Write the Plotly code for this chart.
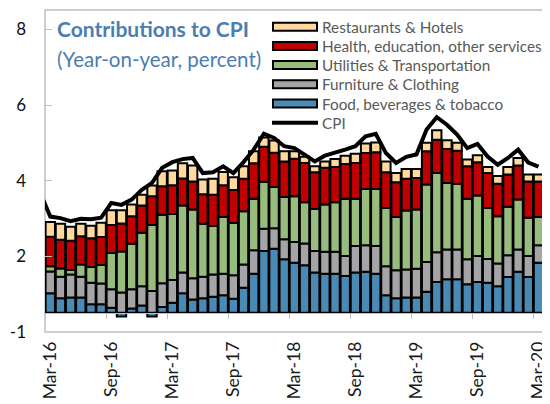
import pandas as pd
import plotly.graph_objects as go

# ---------------- data (contributions, percentage points above the category axis) ----------------
months = [d.strftime("%b-%y") for d in pd.date_range("2016-03-01", "2020-03-01", freq="MS")]
cpi_months = ["Feb-16"] + months

food = [0.51, 0.38, 0.40, 0.40, 0.22, 0.22, 0.13, -0.10, 0.11, 0.19, -0.10, 0.15,
        0.26, 0.51, 0.35, 0.38, 0.42, 0.46, 0.37, 0.66, 1.03, 1.63, 1.69, 1.41,
        1.32, 1.25, 1.06, 1.03, 1.03, 0.97, 1.06, 1.08, 1.03, 0.46, 0.38, 0.40,
        0.40, 0.55, 0.81, 0.88, 0.88, 0.75, 0.81, 0.79, 0.70, 0.94, 1.08, 0.94, 1.32]
furniture = [0.58, 0.57, 0.61, 0.55, 0.57, 0.55, 0.49, 0.53, 0.51, 0.51, 0.57, 0.63,
             0.60, 0.55, 0.56, 0.57, 0.59, 0.57, 0.62, 0.61, 0.62, 0.59, 0.54, 0.53,
             0.55, 0.58, 0.57, 0.58, 0.58, 0.53, 0.70, 0.70, 0.73, 0.77, 0.74, 0.74,
             0.76, 0.79, 0.79, 0.79, 0.79, 0.66, 0.69, 0.63, 0.60, 0.58, 0.59, 0.56, 0.46]
utilities = [0.14, 0.22, 0.12, 0.32, 0.42, 0.49, 0.96, 1.09, 1.20, 1.41, 1.75, 1.81,
             1.75, 1.77, 1.82, 1.40, 1.28, 1.50, 1.38, 1.41, 1.36, 1.24, 1.09, 1.12,
             1.21, 1.09, 1.11, 1.25, 1.31, 1.51, 1.25, 1.49, 1.51, 1.54, 1.41, 1.56,
             1.57, 2.05, 2.09, 1.76, 1.73, 1.60, 1.60, 1.35, 1.25, 1.28, 1.32, 1.01, 0.75]
health = [0.78, 0.76, 0.77, 0.75, 0.76, 0.74, 0.74, 0.74, 0.73, 0.72, 0.76, 0.75,
          0.76, 0.72, 0.74, 0.78, 0.83, 0.84, 0.87, 0.86, 0.94, 0.93, 0.91, 0.94,
          0.99, 1.04, 0.97, 0.97, 0.93, 0.92, 0.95, 0.95, 0.97, 0.94, 0.92, 0.84,
          0.83, 0.88, 0.88, 0.90, 0.88, 0.86, 0.88, 0.92, 0.86, 0.85, 0.90, 0.96, 0.94]
restaurants = [0.39, 0.42, 0.37, 0.33, 0.33, 0.38, 0.39, 0.35, 0.31, 0.29, 0.28, 0.40,
               0.39, 0.40, 0.42, 0.39, 0.42, 0.35, 0.34, 0.33, 0.32, 0.24, 0.32, 0.27,
               0.20, 0.16, 0.16, 0.17, 0.21, 0.22, 0.24, 0.25, 0.26, 0.29, 0.24, 0.26,
               0.24, 0.22, 0.25, 0.23, 0.21, 0.18, 0.18, 0.16, 0.20, 0.20, 0.20, 0.18, 0.18]
cpi = [3.17,
       2.54, 2.50, 2.42, 2.48, 2.47, 2.51, 2.90, 2.85, 2.99, 3.25, 3.43, 3.83,
       3.98, 4.06, 4.09, 3.69, 3.71, 3.87, 3.69, 3.98, 4.31, 4.73, 4.62, 4.40,
       4.35, 4.18, 4.00, 4.15, 4.22, 4.31, 4.40, 4.66, 4.73, 4.22, 3.96, 4.12,
       4.18, 4.84, 5.17, 4.97, 4.71, 4.35, 4.46, 4.13, 3.91, 4.09, 4.31, 3.97, 3.86]

# y-axis labels as printed on the chart, and the label value where the category axis crosses
y_tick_labels = ["-1", "2", "4", "6", "8"]
y_tick_label_pos = [0, 2, 4, 6, 8]
axis_cross = 0.51
x_tick_labels = months[::6]

# ---------------- styles ----------------
BLUE_T = "#4A7EB0"
FONT = "Lato"
series = [
    ("Food, beverages & tobacco", food, "#4A8BB6"),
    ("Furniture & Clothing", furniture, "#A5A5A7"),
    ("Utilities & Transportation", utilities, "#98BC7E"),
    ("Health, education, other services", health, "#C00000"),
    ("Restaurants & Hotels", restaurants, "#FFD99D"),
]

fig = go.Figure()
for name, vals, col in series:
    mk = dict(color=col, line=dict(color="black", width=2))
    if name.startswith("Food"):
        mk["pattern"] = dict(shape="x", size=3, solidity=0.12, fgcolor="#3E7AA3")
    fig.add_trace(go.Bar(x=months, y=vals, name=name, marker=mk))

fig.add_trace(go.Scatter(x=cpi_months, y=cpi, name="CPI", mode="lines",
                         line=dict(color="black", width=4)))

# page offset (browser body margin) and plot-area box in window pixels
OFF = 8
PL, PR, PT, PB = 45, 546, 10, 332
W, H = 550 - OFF, 404 - OFF
PW, PH = PR - PL, PB - PT

def px(xs):
    return (xs - PL) / PW

def py(ys):
    return (PB - ys) / PH

ymin, ymax = -0.512, 8.003
fig.update_layout(
    width=W, height=H,
    margin=dict(l=PL - OFF, r=550 - PR, t=PT - OFF, b=404 - PB, autoexpand=False),
    plot_bgcolor="white", paper_bgcolor="white",
    barmode="relative", bargap=0.08, showlegend=False,
    font=dict(family=FONT),
    xaxis=dict(type="category", categoryorder="array", categoryarray=cpi_months,
               range=[0.48, 49.74], tickmode="array", tickvals=x_tick_labels,
               ticktext=x_tick_labels, tickson="boundaries", ticks="outside",
               ticklen=5, tickcolor="#BFBFBF", showline=True, linecolor="#BFBFBF",
               linewidth=1, showgrid=False, anchor="free",
               position=(0 - ymin) / (ymax - ymin),
               tickangle=-90, ticklabelstandoff=21, automargin=False,
               tickfont=dict(size=17.5, color="#1A1A1A", family=FONT)),
    yaxis=dict(range=[ymin, ymax], tickmode="array",
               tickvals=[v - axis_cross for v in y_tick_label_pos], ticktext=y_tick_labels,
               ticks="inside", ticklen=7, tickcolor="#BFBFBF", showline=False,
               showgrid=False, zeroline=False, ticklabelstandoff=18, automargin=False,
               tickfont=dict(size=17, color="#111111", family=FONT)),
)

shapes = [dict(type="rect", xref="paper", yref="paper", x0=0, x1=1, y0=0, y1=1,
               line=dict(color="#BFBFBF", width=1.5), layer="below")]
annotations = [
    dict(text="<b>Contributions to CPI</b>", xref="paper", yref="paper", x=px(55), y=py(29),
         xanchor="left", yanchor="middle", showarrow=False,
         font=dict(size=21, color=BLUE_T, family=FONT)),
    dict(text="(Year-on-year, percent)", xref="paper", yref="paper", x=px(55), y=py(59),
         xanchor="left", yanchor="middle", showarrow=False,
         font=dict(size=20.5, color=BLUE_T, family=FONT)),
]

legend_items = [(n, c) for n, _, c in reversed(series)] + [("CPI", None)]
row0, row_step = 26.7, 19.2
for k, (name, col) in enumerate(legend_items):
    yc = row0 + k * row_step
    if col is not None:
        shapes.append(dict(type="rect", xref="paper", yref="paper",
                           x0=px(273), x1=px(317), y0=py(yc + 4), y1=py(yc - 4),
                           fillcolor=col, line=dict(color="black", width=2)))
    else:
        shapes.append(dict(type="line", xref="paper", yref="paper",
                           x0=px(272), x1=px(318), y0=py(yc), y1=py(yc),
                           line=dict(color="black", width=4)))
    annotations.append(dict(text=name, xref="paper", yref="paper", x=px(320), y=py(yc),
                            xanchor="left", yanchor="middle", showarrow=False,
                            font=dict(size=15.3, color="#595959", family=FONT)))

fig.update_layout(shapes=shapes, annotations=annotations)
fig.write_html("out.html")
